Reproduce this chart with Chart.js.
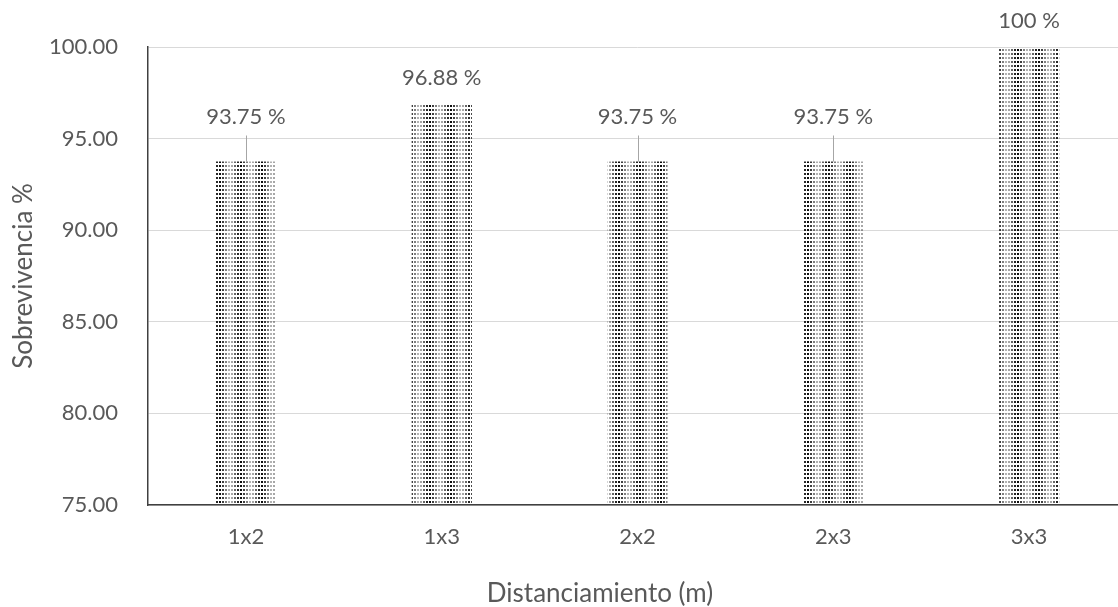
<!DOCTYPE html>
<html>
<head>
<meta charset="utf-8">
<script src="https://cdn.jsdelivr.net/npm/chart.js@4"></script>
<style>
  html, body { margin: 0; padding: 0; background: #ffffff; overflow: hidden; }
  #wrap { width: 1118px; height: 607px; overflow: hidden; position: relative; }
  #wrap canvas { position: absolute; left: 0; top: 0; }
</style>
</head>
<body>
<div id="wrap"><canvas id="c" width="1130" height="607"></canvas></div>
<script>
// Survival percentage by planting distance
const categories = ['1x2', '1x3', '2x2', '2x3', '3x3'];
const survival = [93.75, 96.88, 93.75, 93.75, 100];
const valueLabels = ['93.75 %', '96.88 %', '93.75 %', '93.75 %', '100 %'];
const yTicks = [75, 80, 85, 90, 95, 100];

const TEXT = '#595959';
const FONT = 'Lato, "Open Sans", sans-serif';

// Dotted fill for the bars: columns of small squares in varying greys
function dotPattern() {
  const tile = document.createElement('canvas');
  tile.width = 21; tile.height = 4;
  const g = tile.getContext('2d');
  const shades = [0.35, 0.6, 0.85, 0.95, 0.75, 0.5, 0.3];
  shades.forEach((a, i) => {
    g.fillStyle = 'rgba(0,0,0,' + a + ')';
    g.fillRect(i * 3, 1, 2, 2);
  });
  return g.createPattern(tile, 'repeat');
}
const ctx = document.getElementById('c').getContext('2d');
const fill = dotPattern();

// Value labels above the bars, some lifted with a thin leader line
const barLabels = {
  id: 'barLabels',
  afterDatasetsDraw(chart, args, opts) {
    const c = chart.ctx;
    const meta = chart.getDatasetMeta(0);
    c.save();
    c.font = '22px ' + FONT;
    c.fillStyle = TEXT;
    c.textAlign = 'center';
    c.textBaseline = 'alphabetic';
    meta.data.forEach((bar, i) => {
      const lifted = opts.lifted.includes(i);
      const base = bar.y - (lifted ? opts.liftedGap : opts.gap);
      if (lifted) {
        c.strokeStyle = '#a6a6a6';
        c.lineWidth = 1;
        c.beginPath();
        c.moveTo(Math.round(bar.x) + 0.5, base + 12);
        c.lineTo(Math.round(bar.x) + 0.5, bar.y);
        c.stroke();
      }
      c.fillText(valueLabels[i], bar.x, base);
    });
    c.restore();
  }
};

// Axis titles
const axisTitles = {
  id: 'axisTitles',
  afterDraw(chart, args, opts) {
    const c = chart.ctx;
    c.save();
    c.font = '26px ' + FONT;
    c.fillStyle = TEXT;
    c.textAlign = 'center';
    c.textBaseline = 'alphabetic';
    c.fillText(opts.x.text, opts.x.cx, opts.x.base);
    c.translate(opts.y.base, opts.y.cy);
    c.rotate(-Math.PI / 2);
    c.fillText(opts.y.text, 0, 0);
    c.restore();
  }
};

new Chart(ctx, {
  type: 'bar',
  data: {
    labels: categories,
    datasets: [{
      data: survival,
      backgroundColor: fill,
      borderWidth: 0,
      barPercentage: 0.307,
      categoryPercentage: 1.0
    }]
  },
  options: {
    responsive: false,
    animation: false,
    events: [],
    layout: { padding: { top: 47, right: 3, left: 0, bottom: 0 } },
    plugins: {
      legend: { display: false },
      tooltip: { enabled: false },
      barLabels: { lifted: [0, 2, 3], liftedGap: 38, gap: 19 },
      axisTitles: {
        x: { text: 'Distanciamiento (m)', cx: 600, base: 602 },
        y: { text: 'Sobrevivencia %', cy: 276, base: 32 }
      }
    },
    scales: {
      x: {
        grid: { display: false, drawTicks: false },
        border: { color: '#404040', width: 1.5 },
        ticks: { color: TEXT, font: { size: 22, family: FONT }, padding: 19 },
        afterFit(s) { s.height = 102; }
      },
      y: {
        min: 75,
        max: 100,
        afterBuildTicks(s) { s.ticks = yTicks.map(v => ({ value: v })); },
        grid: { color: '#d9d9d9', drawTicks: false, lineWidth: 1 },
        border: { color: '#404040', width: 1.5 },
        ticks: {
          color: TEXT,
          font: { size: 22, family: FONT },
          padding: 30,
          callback: v => Number(v).toFixed(2)
        },
        afterFit(s) { s.width = 148; }
      }
    }
  },
  plugins: [barLabels, axisTitles]
});
</script>
</body>
</html>
